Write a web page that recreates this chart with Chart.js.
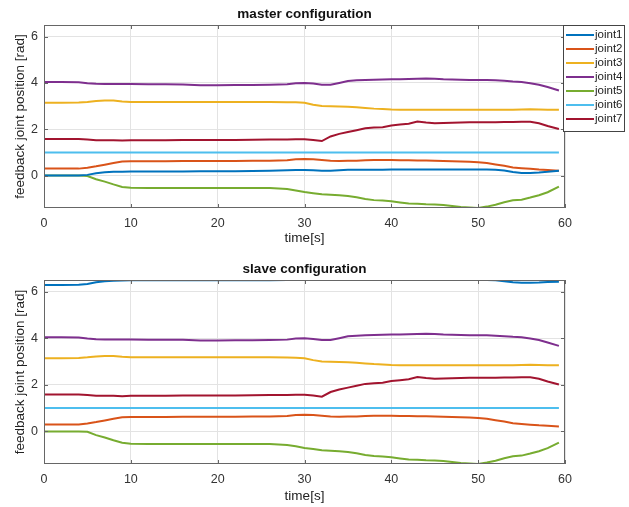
<!DOCTYPE html>
<html>
<head>
<meta charset="utf-8">
<script src="https://cdn.jsdelivr.net/npm/chart.js@4.4.1/dist/chart.umd.min.js"></script>
<style>
  html, body { margin: 0; padding: 0; background: #fff; }
  .wrap { position: absolute; left: 0; width: 629px; }
</style>
</head>
<body>
<div class="wrap" style="top:0;height:250px"><canvas id="master" width="629" height="250"></canvas></div>
<div class="wrap" style="top:250px;height:257px"><canvas id="slave" width="629" height="257"></canvas></div>
<script>
// time samples [s]
const timeS = [0, 2, 4, 5, 6, 7, 8, 9, 10,
  12, 14, 16, 18, 20, 22, 24, 26, 28,
  29, 30, 31, 32, 33, 34, 35, 36, 37, 38,
  39, 40, 41, 42, 43, 44, 45, 46, 47, 48,
  49, 50, 51, 52, 53, 54, 55, 56, 57, 58,
  59.3];

const xTicks = [0, 10, 20, 30, 40, 50, 60];
const yTicks = [0, 2, 4, 6];

const jointNames = ['joint1', 'joint2', 'joint3', 'joint4', 'joint5', 'joint6', 'joint7'];
const jointColors = ['#0072BD', '#D95319', '#EDB120', '#7E2F8E', '#77AC30', '#4DBEEE', '#A2142F'];

// master joint1 sits near 0, slave joint1 near 2*pi
const masterJoint1 = [0, 0, 0, 0.03, 0.1, 0.14, 0.16, 0.17, 0.18,
  0.18, 0.18, 0.18, 0.19, 0.19, 0.19, 0.2, 0.21, 0.23,
  0.24, 0.24, 0.23, 0.21, 0.21, 0.23, 0.25, 0.25, 0.25, 0.25,
  0.25, 0.26, 0.26, 0.26, 0.26, 0.26, 0.26, 0.26, 0.26, 0.26,
  0.26, 0.26, 0.26, 0.25, 0.22, 0.15, 0.11, 0.11, 0.13, 0.16,
  0.21];
const slaveJoint1 = [6.29, 6.29, 6.3, 6.33, 6.4, 6.45, 6.47, 6.48, 6.49,
  6.49, 6.49, 6.49, 6.49, 6.49, 6.49, 6.49, 6.49, 6.5,
  6.5, 6.5, 6.5, 6.5, 6.5, 6.5, 6.5, 6.5, 6.5, 6.5,
  6.5, 6.5, 6.5, 6.5, 6.5, 6.5, 6.5, 6.5, 6.5, 6.5,
  6.5, 6.5, 6.5, 6.49, 6.45, 6.4, 6.38, 6.38, 6.39, 6.41,
  6.43];
const joint2 = [0.3, 0.3, 0.3, 0.34, 0.4, 0.47, 0.54, 0.61, 0.62,
  0.62, 0.62, 0.63, 0.63, 0.63, 0.63, 0.64, 0.64, 0.66,
  0.7, 0.71, 0.7, 0.67, 0.64, 0.63, 0.64, 0.64, 0.66, 0.67,
  0.67, 0.67, 0.66, 0.66, 0.65, 0.65, 0.64, 0.63, 0.62, 0.61,
  0.6, 0.58, 0.54, 0.48, 0.42, 0.35, 0.32, 0.29, 0.26, 0.24,
  0.21];
const joint3 = [3.14, 3.14, 3.15, 3.18, 3.22, 3.24, 3.24, 3.2, 3.18,
  3.18, 3.18, 3.18, 3.18, 3.18, 3.18, 3.18, 3.18, 3.17,
  3.16, 3.14, 3.06, 3.0, 2.99, 2.98, 2.97, 2.95, 2.92, 2.89,
  2.87, 2.85, 2.84, 2.84, 2.84, 2.84, 2.84, 2.84, 2.84, 2.84,
  2.84, 2.84, 2.84, 2.84, 2.84, 2.84, 2.85, 2.86, 2.85, 2.84,
  2.84];
const joint4 = [4.04, 4.04, 4.03, 3.99, 3.96, 3.95, 3.95, 3.95, 3.95,
  3.94, 3.94, 3.93, 3.9, 3.9, 3.91, 3.91, 3.92, 3.94,
  3.99, 4.0, 3.97, 3.92, 3.92, 4.0, 4.08, 4.11, 4.13, 4.14,
  4.15, 4.16, 4.16, 4.17, 4.18, 4.19, 4.18, 4.16, 4.15, 4.14,
  4.13, 4.13, 4.13, 4.11, 4.09, 4.06, 4.04, 3.99, 3.92, 3.82,
  3.67];
const joint5 = [0, 0, 0, -0.02, -0.16, -0.26, -0.38, -0.49, -0.53,
  -0.54, -0.54, -0.54, -0.54, -0.54, -0.54, -0.54, -0.54, -0.58,
  -0.64, -0.71, -0.76, -0.81, -0.83, -0.85, -0.88, -0.94, -1.01, -1.06,
  -1.08, -1.11, -1.16, -1.21, -1.22, -1.24, -1.25, -1.27, -1.31, -1.36,
  -1.38, -1.4, -1.34, -1.26, -1.15, -1.07, -1.04, -0.95, -0.85, -0.72,
  -0.48];
const joint6 = [1, 1, 1, 1, 1, 1, 1, 1, 1,
  1, 1, 1, 1, 1, 1, 1, 1, 1,
  1, 1, 1, 1, 1, 1, 1, 1, 1, 1,
  1, 1, 1, 1, 1, 1, 1, 1, 1, 1,
  1, 1, 1, 1, 1, 1, 1, 1, 1, 1,
  1];
const joint7 = [1.58, 1.58, 1.58, 1.56, 1.53, 1.53, 1.53, 1.51, 1.53,
  1.53, 1.53, 1.54, 1.54, 1.54, 1.54, 1.55, 1.56, 1.56,
  1.57, 1.57, 1.54, 1.49, 1.69, 1.8, 1.88, 1.96, 2.04, 2.07,
  2.09, 2.16, 2.2, 2.24, 2.33, 2.29, 2.26, 2.27, 2.28, 2.29,
  2.3, 2.3, 2.3, 2.3, 2.31, 2.31, 2.32, 2.32, 2.26, 2.14,
  2.01];

const FONT = 'Liberation Sans, Arial, sans-serif';

// box around the axes with inward ticks, like matlab "box on"
const framePlugin = {
  id: 'frame',
  afterDatasetsDraw(chart) {
    const { ctx, chartArea: a, scales } = chart;
    ctx.save();
    ctx.strokeStyle = '#666';
    ctx.lineWidth = 1;
    ctx.strokeRect(a.left + 0.5, a.top + 0.5, a.right - a.left - 1, a.bottom - a.top - 1);
    ctx.beginPath();
    scales.x.ticks.forEach(t => {
      const px = Math.round(scales.x.getPixelForValue(t.value)) + 0.5;
      ctx.moveTo(px, a.bottom); ctx.lineTo(px, a.bottom - 4);
      ctx.moveTo(px, a.top); ctx.lineTo(px, a.top + 4);
    });
    scales.y.ticks.forEach(t => {
      const py = Math.round(scales.y.getPixelForValue(t.value)) + 0.5;
      ctx.moveTo(a.left, py); ctx.lineTo(a.left + 4, py);
      ctx.moveTo(a.right, py); ctx.lineTo(a.right - 4, py);
    });
    ctx.stroke();
    ctx.restore();
  }
};

// legend box overlapping the right edge of the top plot
const jointLegend = {
  id: 'jointLegend',
  afterDraw(chart) {
    const ctx = chart.ctx;
    const x0 = 563, y0 = 25, w = 62, h = 107;
    ctx.save();
    ctx.fillStyle = '#fff';
    ctx.fillRect(x0, y0, w, h);
    ctx.strokeStyle = '#444';
    ctx.lineWidth = 1;
    ctx.strokeRect(x0 + 0.5, y0 + 0.5, w - 1, h - 1);
    ctx.font = '11.5px ' + FONT;
    ctx.textBaseline = 'middle';
    jointNames.forEach((name, i) => {
      const y = y0 + 10 + i * 14;
      ctx.strokeStyle = jointColors[i];
      ctx.lineWidth = 2;
      ctx.beginPath();
      ctx.moveTo(x0 + 3, y); ctx.lineTo(x0 + 31, y);
      ctx.stroke();
      ctx.fillStyle = '#222';
      ctx.fillText(name, x0 + 32, y);
    });
    ctx.restore();
  }
};

function makeChart(canvasId, title, joint1Values, plotTop, plotBottom, xTitlePad, extraPlugins) {
  const series = [joint1Values, joint2, joint3, joint4, joint5, joint6, joint7];
  const canvas = document.getElementById(canvasId);
  return new Chart(canvas, {
    type: 'line',
    data: {
      datasets: series.map((vals, i) => ({
        label: jointNames[i],
        data: timeS.map((t, k) => ({ x: t, y: vals[k] })),
        borderColor: jointColors[i],
        backgroundColor: jointColors[i],
        borderWidth: 2,
        pointRadius: 0,
        tension: 0,
        fill: false
      }))
    },
    options: {
      responsive: false,
      animation: false,
      devicePixelRatio: 1,
      layout: { padding: { left: 0, right: 64, top: 0, bottom: 0 } },
      plugins: {
        legend: { display: false },
        tooltip: { enabled: false },
        title: {
          display: true,
          text: title,
          fullSize: false,
          color: '#111',
          font: { family: FONT, size: 13.5, weight: 'bold', lineHeight: 1.2 },
          padding: { top: plotTop - 16.2 - 3, bottom: 3 }
        }
      },
      scales: {
        x: {
          type: 'linear',
          min: 0,
          max: 60,
          afterBuildTicks: s => { s.ticks = xTicks.map(v => ({ value: v })); },
          afterFit: s => { s.height = canvas.height - plotBottom; },
          grid: { color: '#e3e3e3', drawTicks: false },
          border: { display: false },
          ticks: { color: '#333', padding: 8, maxRotation: 0, font: { family: FONT, size: 12.5 } },
          title: {
            display: true,
            text: 'time[s]',
            color: '#222',
            font: { family: FONT, size: 13.5 },
            padding: { top: 0, bottom: xTitlePad }
          }
        },
        y: {
          min: -1.4,
          max: 6.5,
          afterBuildTicks: s => { s.ticks = yTicks.map(v => ({ value: v })); },
          afterFit: s => { s.width = 44; },
          grid: { color: '#e3e3e3', drawTicks: false },
          border: { display: false },
          ticks: { color: '#333', padding: 6, font: { family: FONT, size: 12.5 } },
          title: {
            display: true,
            text: 'feedback joint position [rad]',
            color: '#222',
            font: { family: FONT, size: 13.5 },
            padding: { top: 12, bottom: 0 }
          }
        }
      }
    },
    plugins: [framePlugin].concat(extraPlugins)
  });
}

makeChart('master', 'master configuration', masterJoint1, 25, 208, 4, [jointLegend]);
makeChart('slave', 'slave configuration', slaveJoint1, 30, 214, 3, []);
</script>
</body>
</html>
